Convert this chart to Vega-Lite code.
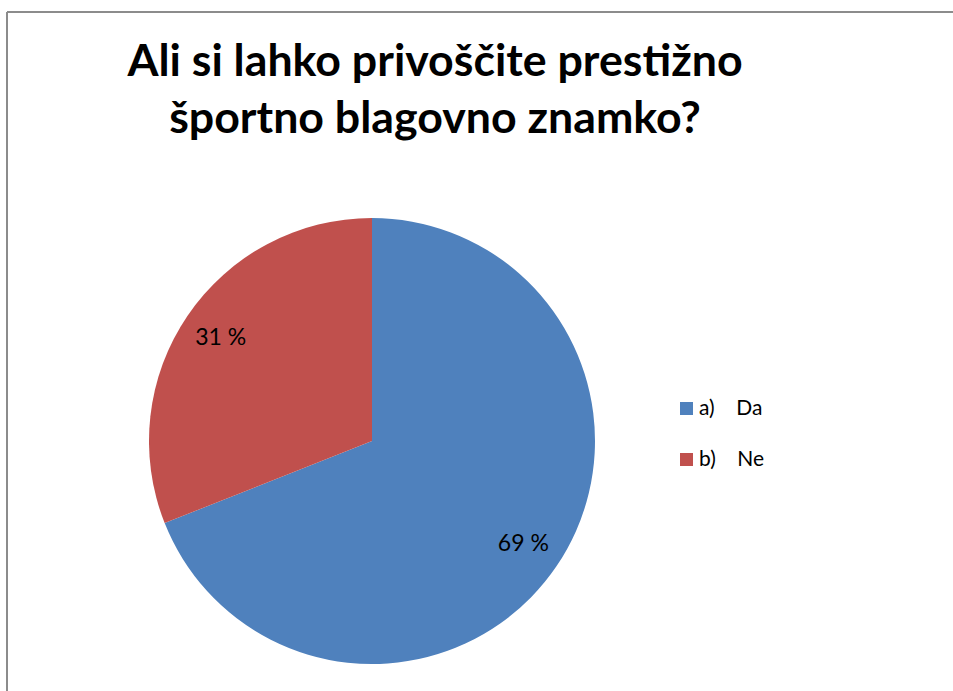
{
  "$schema": "https://vega.github.io/schema/vega-lite/v6.json",
  "autosize": {"type": "none"},
  "width": 946,
  "height": 679,
  "padding": {"left": 7, "top": 12, "right": 0, "bottom": 0},
  "background": "white",
  "view": {"stroke": "#8c8c8c", "strokeWidth": 2, "fill": "white", "strokeDash": [946, 1625, 679, 0]},
  "config": {
    "font": "Lato"
  },
  "title": {
    "text": ["Ali si lahko privoščite prestižno", "športno blagovno znamko?"],
    "font": "Lato",
    "fontSize": 44.7,
    "fontWeight": "bold",
    "color": "#000000",
    "anchor": "start",
    "baseline": "alphabetic",
    "align": "center",
    "lineHeight": 57,
    "dx": 428,
    "dy": 170
  },
  "data": {
    "values": [
      {"odgovor": "a)\u00a0\u00a0\u00a0\u00a0Da", "delez": 69, "oznaka": "69 %", "vrstni_red": 1},
      {"odgovor": "b)\u00a0\u00a0\u00a0\u00a0Ne", "delez": 31, "oznaka": "31 %", "vrstni_red": 2}
    ]
  },
  "encoding": {
    "theta": {"field": "delez", "type": "quantitative", "stack": true},
    "order": {"field": "vrstni_red", "type": "quantitative", "sort": "ascending"},
    "color": {
      "field": "odgovor",
      "type": "nominal",
      "scale": {"domain": ["a)\u00a0\u00a0\u00a0\u00a0Da", "b)\u00a0\u00a0\u00a0\u00a0Ne"], "range": ["#4F81BD", "#C0504D"]},
      "legend": {
        "title": null,
        "orient": "none",
        "legendX": 669,
        "legendY": 386,
        "symbolType": "square",
        "symbolSize": 169,
        "symbolStrokeWidth": 0,
        "symbolOpacity": 1,
        "labelFont": "Lato",
        "labelFontSize": 21,
        "labelColor": "#000000",
        "labelOffset": 2,
        "rowPadding": 29
      }
    }
  },
  "layer": [
    {
      "mark": {"type": "arc", "radius": 223, "x": 365, "y": 429, "stroke": null}
    },
    {
      "mark": {"type": "text", "radius": 183, "x": 365, "y": 429, "font": "Lato", "fontSize": 23, "align": "center", "baseline": "middle"},
      "encoding": {
        "text": {"field": "oznaka", "type": "nominal"},
        "color": {"value": "#000000"}
      }
    }
  ]
}
